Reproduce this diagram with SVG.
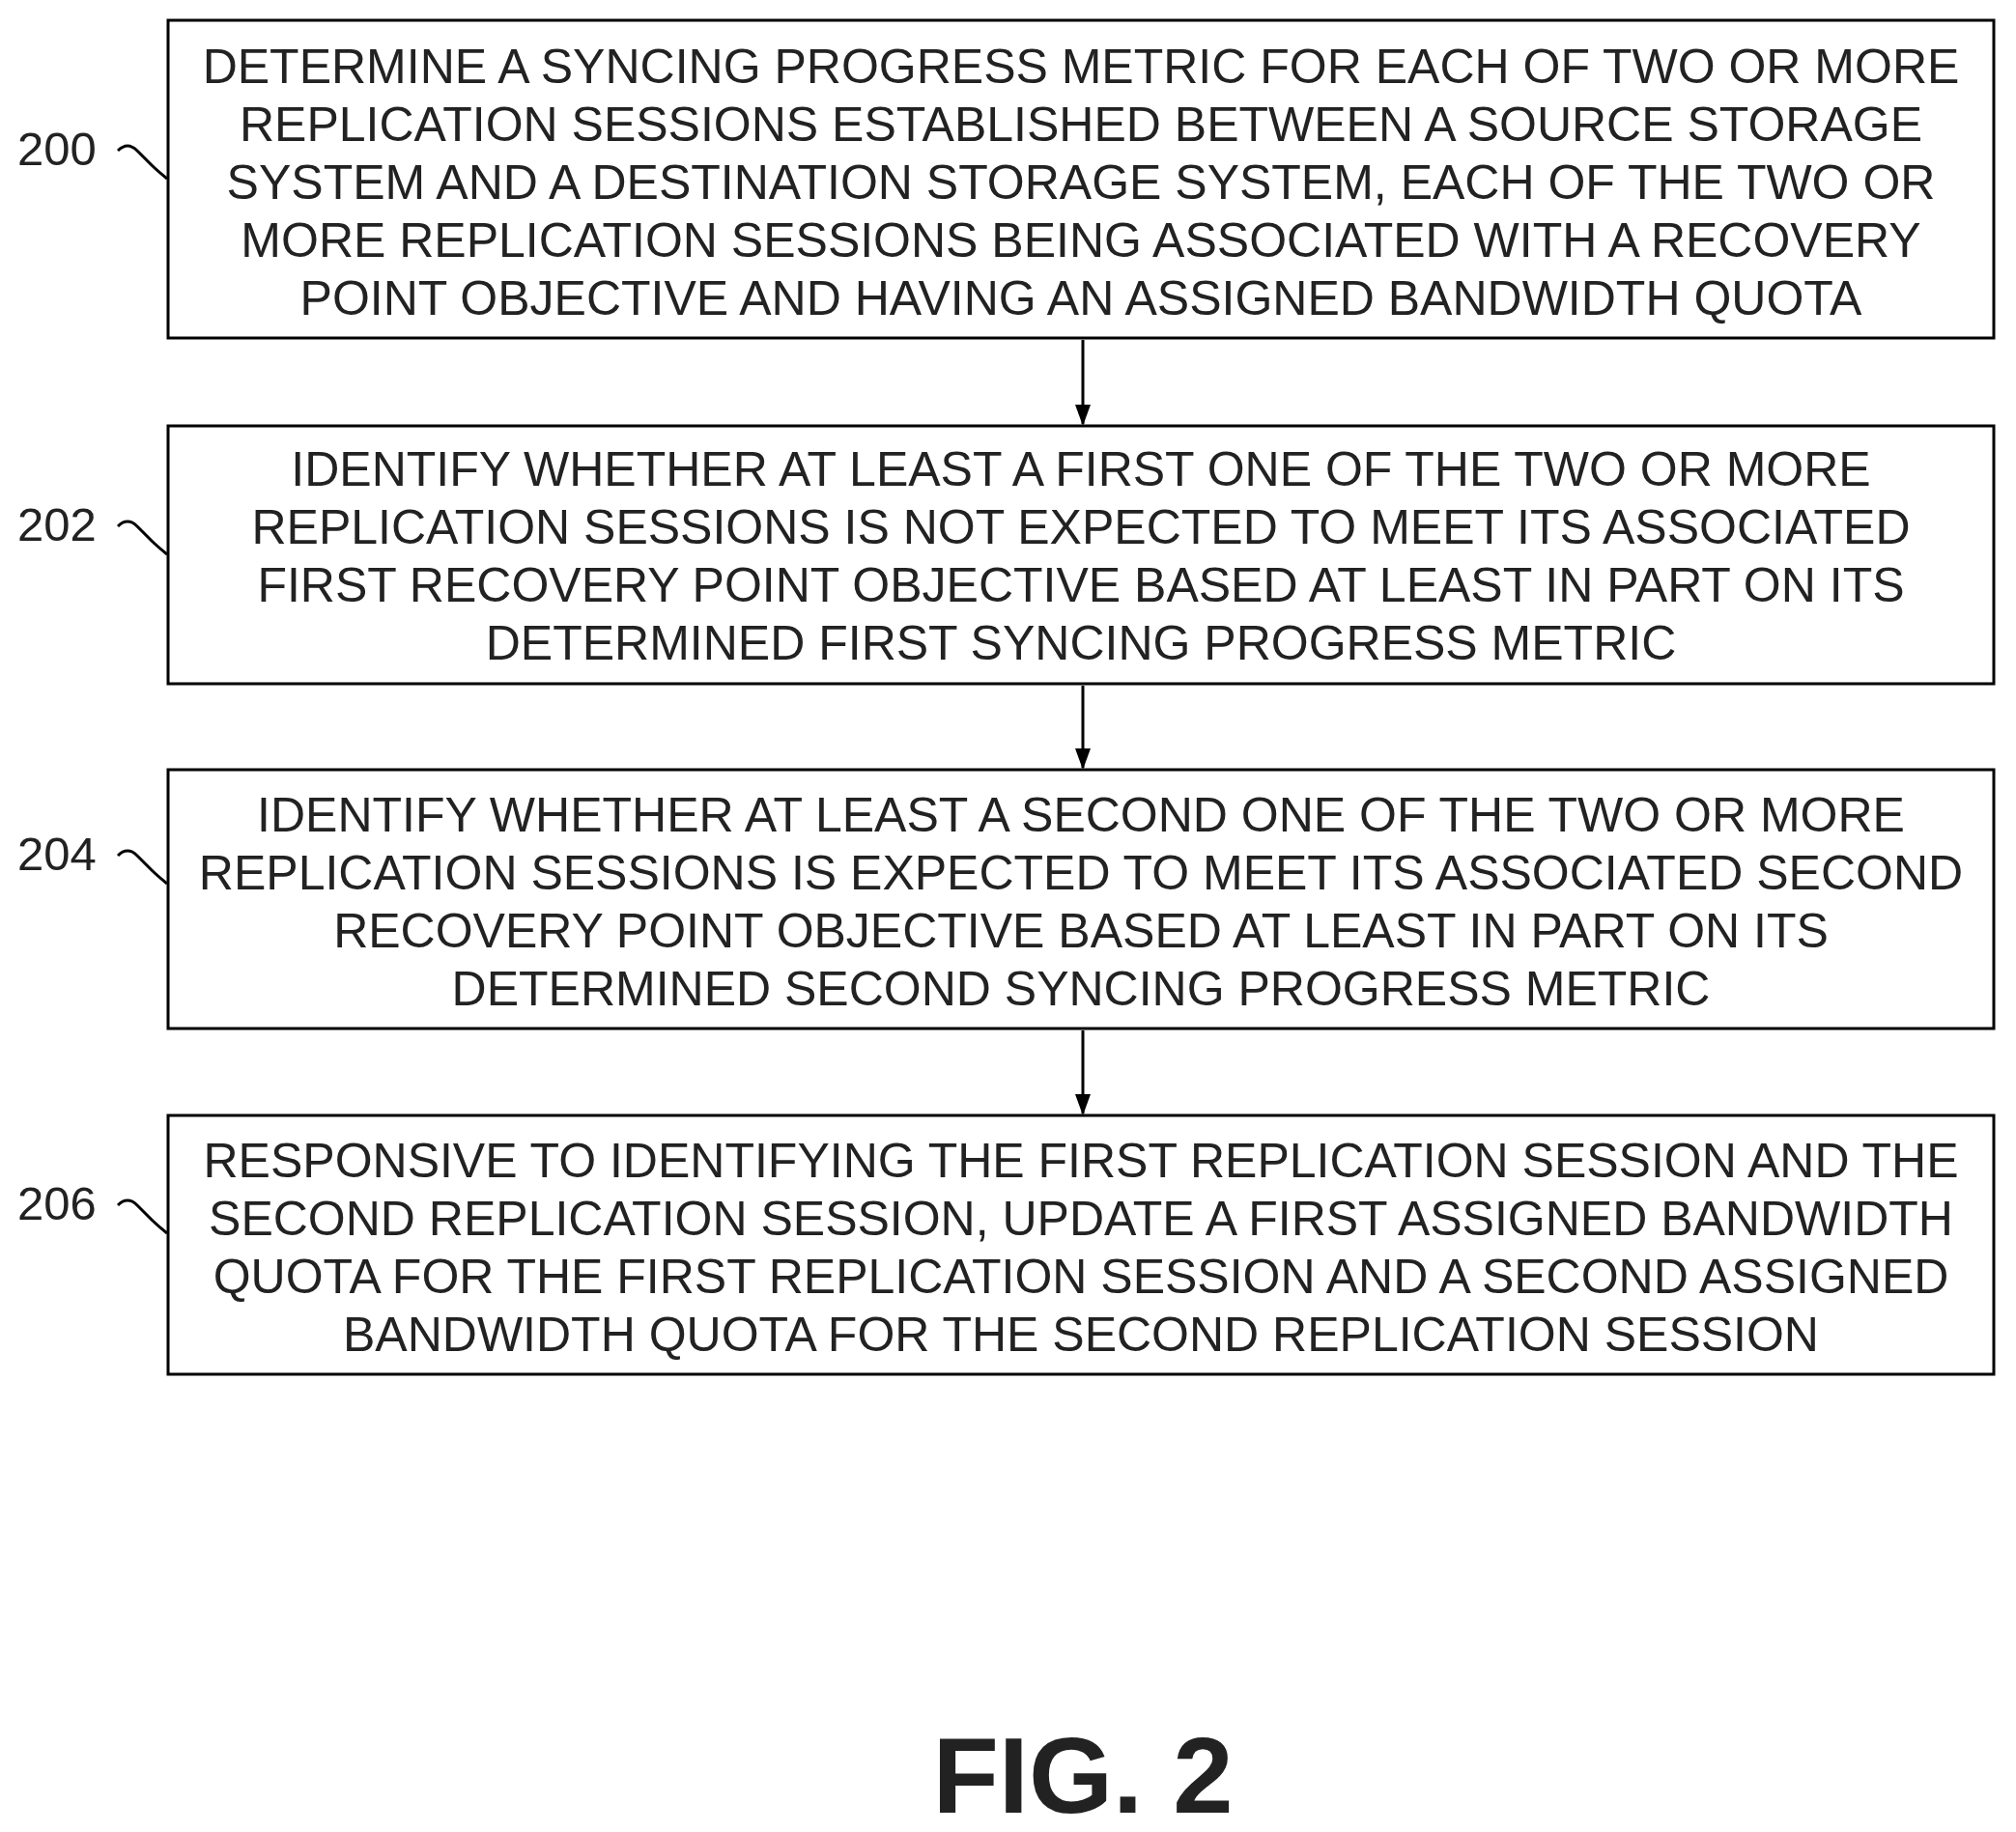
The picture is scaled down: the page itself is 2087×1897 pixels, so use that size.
<svg xmlns="http://www.w3.org/2000/svg" width="2087" height="1897" viewBox="0 0 2087 1897">
<style>
.box{fill:#fff;stroke:#000;stroke-width:3}
.t{font-family:"Liberation Sans",Arial,sans-serif;font-size:50px;text-anchor:middle;fill:#222}
.lbl{font-family:"Liberation Sans",Arial,sans-serif;font-size:49px;fill:#222}
.c{fill:none;stroke:#000;stroke-width:3}
</style>
<defs>
<marker id="a" markerWidth="22" markerHeight="22" refX="20" refY="11" orient="auto" markerUnits="userSpaceOnUse"><path d="M0,3 L22,11 L0,19 z" fill="#000"/></marker></defs>
<rect width="2087" height="1897" fill="#fff"/>
<g id="n200"><rect class="box" x="174" y="21" width="1890" height="329"/>
<text class="t" x="1119" y="86">DETERMINE A SYNCING PROGRESS METRIC FOR EACH OF TWO OR MORE</text>
<text class="t" x="1119" y="146">REPLICATION SESSIONS ESTABLISHED BETWEEN A SOURCE STORAGE</text>
<text class="t" x="1119" y="206">SYSTEM AND A DESTINATION STORAGE SYSTEM, EACH OF THE TWO OR</text>
<text class="t" x="1119" y="266">MORE REPLICATION SESSIONS BEING ASSOCIATED WITH A RECOVERY</text>
<text class="t" x="1119" y="326">POINT OBJECTIVE AND HAVING AN ASSIGNED BANDWIDTH QUOTA</text>
<text class="lbl" x="18" y="171">200</text><path class="c" d="M122,156 q10,-10 20,0 t15,15 t16,14"/></g>
<g id="n202"><rect class="box" x="174" y="441" width="1890" height="267"/>
<text class="t" x="1119" y="503">IDENTIFY WHETHER AT LEAST A FIRST ONE OF THE TWO OR MORE</text>
<text class="t" x="1119" y="563">REPLICATION SESSIONS IS NOT EXPECTED TO MEET ITS ASSOCIATED</text>
<text class="t" x="1119" y="623">FIRST RECOVERY POINT OBJECTIVE BASED AT LEAST IN PART ON ITS</text>
<text class="t" x="1119" y="683">DETERMINED FIRST SYNCING PROGRESS METRIC</text>
<text class="lbl" x="18" y="560">202</text><path class="c" d="M122,545 q10,-10 20,0 t15,15 t16,14"/></g>
<g id="n204"><rect class="box" x="174" y="797" width="1890" height="268"/>
<text class="t" x="1119" y="861">IDENTIFY WHETHER AT LEAST A SECOND ONE OF THE TWO OR MORE</text>
<text class="t" x="1119" y="921">REPLICATION SESSIONS IS EXPECTED TO MEET ITS ASSOCIATED SECOND</text>
<text class="t" x="1119" y="981">RECOVERY POINT OBJECTIVE BASED AT LEAST IN PART ON ITS</text>
<text class="t" x="1119" y="1041">DETERMINED SECOND SYNCING PROGRESS METRIC</text>
<text class="lbl" x="18" y="901">204</text><path class="c" d="M122,886 q10,-10 20,0 t15,15 t16,14"/></g>
<g id="n206"><rect class="box" x="174" y="1155" width="1890" height="268"/>
<text class="t" x="1119" y="1219">RESPONSIVE TO IDENTIFYING THE FIRST REPLICATION SESSION AND THE</text>
<text class="t" x="1119" y="1279">SECOND REPLICATION SESSION, UPDATE A FIRST ASSIGNED BANDWIDTH</text>
<text class="t" x="1119" y="1339">QUOTA FOR THE FIRST REPLICATION SESSION AND A SECOND ASSIGNED</text>
<text class="t" x="1119" y="1399">BANDWIDTH QUOTA FOR THE SECOND REPLICATION SESSION</text>
<text class="lbl" x="18" y="1263">206</text><path class="c" d="M122,1248 q10,-10 20,0 t15,15 t16,14"/></g>
<g id="connectors">
<line class="c" x1="1121" y1="352" x2="1121" y2="439" marker-end="url(#a)"/>
<line class="c" x1="1121" y1="710" x2="1121" y2="795" marker-end="url(#a)"/>
<line class="c" x1="1121" y1="1067" x2="1121" y2="1153" marker-end="url(#a)"/>
</g>
<text x="1121" y="1877" style="font-family:'Liberation Sans',Arial,sans-serif;font-size:112px;font-weight:bold;text-anchor:middle" fill="#222">FIG. 2</text>
</svg>
